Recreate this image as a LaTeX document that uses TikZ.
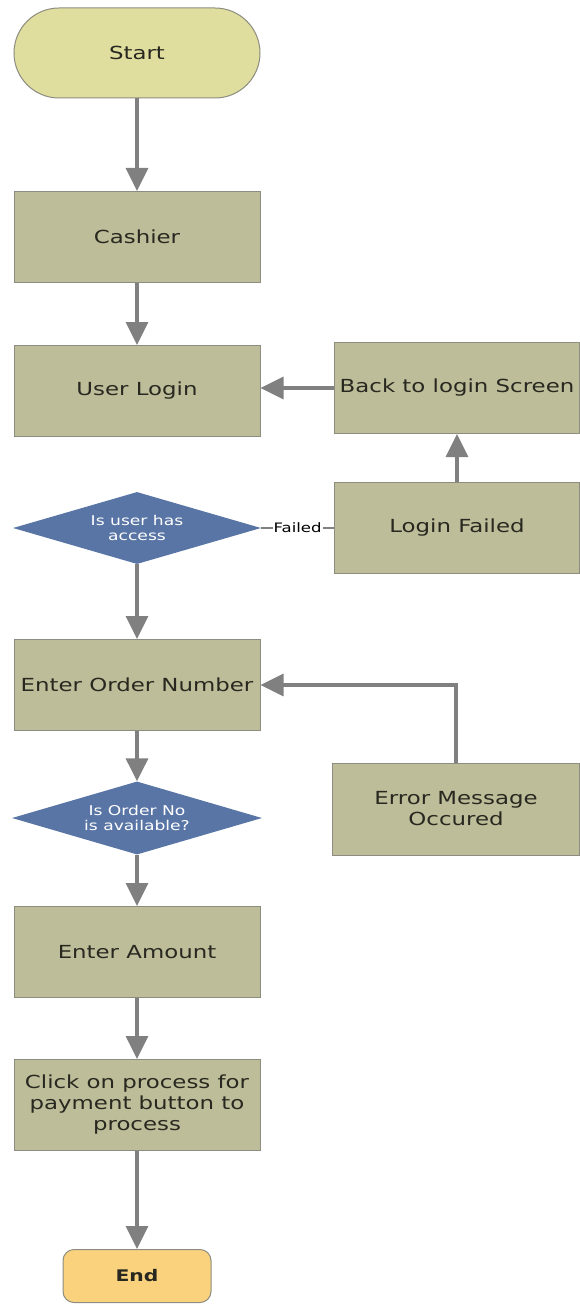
\documentclass[tikz,border=0pt]{standalone}
\usepackage{fontspec}
\setmainfont{DejaVu Sans}[FakeStretch=1.27]
\usetikzlibrary{arrows.meta,shapes.geometric}
\definecolor{boxfill}{RGB}{190,189,153}
\definecolor{startfill}{RGB}{224,222,158}
\definecolor{dfill}{RGB}{88,117,165}
\definecolor{endfill}{RGB}{250,210,126}
\definecolor{edge}{RGB}{140,140,128}
\definecolor{arr}{RGB}{128,128,128}
\definecolor{txt}{RGB}{40,40,32}
\tikzset{
  procbox/.style={draw=edge, line width=1pt, fill=boxfill, rectangle, minimum width=246pt, minimum height=91pt, inner sep=0pt, align=center, text=txt, font=\fontsize{18}{21}\selectfont},
  startbox/.style={draw=edge, line width=1pt, fill=startfill, rectangle, rounded corners=45pt, minimum width=246pt, minimum height=90pt, inner sep=0pt, text=txt, font=\fontsize{18}{21}\selectfont},
  endbox/.style={draw=edge, line width=1pt, fill=endfill, rectangle, rounded corners=11pt, minimum width=148pt, minimum height=53pt, inner sep=0pt, text=txt, font=\fontsize{16}{19}\selectfont\bfseries},
  decbox/.style={draw=none, fill=dfill, diamond, aspect=3.4, minimum width=248pt, minimum height=72pt, inner sep=0pt, align=center, text=white, font=\fontsize{13.5}{15}\selectfont},
  flow/.style={draw=arr, line width=3.5pt, -{Triangle[length=23pt,width=22pt]}},
  plainline/.style={draw=arr, line width=1.5pt},
  lbl/.style={fill=white, inner sep=1pt, text=black, font=\fontsize{13}{15}\selectfont}
}
\begin{document}
\begin{tikzpicture}[x=1pt,y=-1pt]
\useasboundingbox (0,0) rectangle (580,1305);
\node[startbox] (start) at (137,53) {Start};
\node[procbox] (cashier) at (137,237) {Cashier};
\node[procbox] (login) at (137,391) {User Login};
\node[procbox, minimum width=245pt] (back) at (457,388) {Back to login Screen};
\node[procbox, minimum width=245pt] (failed) at (457,528) {Login Failed};
\node[decbox] (d1) at (137,528) {Is user has\\access};
\node[procbox] (order) at (137,685) {Enter Order Number};
\node[procbox, minimum width=247pt, minimum height=92pt] (error) at (456,809) {Error Message\\Occured};
\node[decbox, minimum width=250pt, minimum height=73pt] (d2) at (137,818) {Is Order No\\is available?};
\node[procbox] (amount) at (137,952) {Enter Amount};
\node[procbox] (click) at (137,1105) {Click on process for\\payment button to\\process};
\node[endbox] (end) at (137,1276) {End};

\draw[flow] (start) -- (cashier);
\draw[flow] (cashier) -- (login);
\draw[flow] (back.west) -- (login.east |- back.west);
\draw[flow] (failed) -- (back);
\draw[plainline] (d1.east) -- node[lbl] {Failed} (failed.west);
\draw[flow] (d1.south) -- (order.north);
\draw[flow] (error.north) |- (order.east);
\draw[flow] (order) -- (d2);
\draw[flow] (d2.south) -- (amount.north);
\draw[flow] (amount) -- (click);
\draw[flow] (click) -- (end);
\end{tikzpicture}
\end{document}
